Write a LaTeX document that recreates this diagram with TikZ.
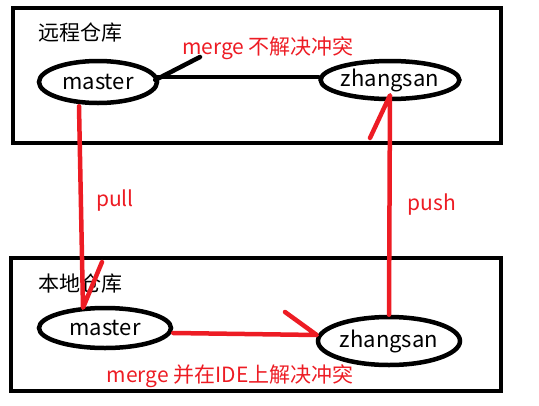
\documentclass[tikz,border=0pt]{standalone}
\usepackage{fontspec}
\setmainfont{Noto Sans CJK SC}
\usetikzlibrary{shapes.geometric,calc}
\definecolor{pred}{RGB}{237,28,36}
\tikzset{
  frame/.style={draw=black,line width=4.5pt},
  br/.style={draw=black,ellipse,line width=4.5pt,inner sep=0pt,font=\fontsize{22}{24}\selectfont},
  lbl/.style={inner sep=0pt,font=\fontsize{21}{24}\selectfont},
  rl/.style={draw=pred,line width=4.5pt,line cap=round,line join=round},
  bl/.style={draw=black,line width=4.5pt,line cap=round},
}
\begin{document}
\begin{tikzpicture}[x=1pt,y=-1pt]
\useasboundingbox (0,0) rectangle (539,405);
\draw[frame] (13,8) rectangle (501,143);
\draw[frame] (11,258) rectangle (501,391);
\node[lbl] (rt) at (80,33) {远程仓库};
\node[lbl] (lt) at (80,284) {本地仓库};
\node[br,minimum width=118pt,minimum height=42pt] (mt) at (98,82) {master};
\node[br,minimum width=122pt,minimum height=38pt] (zt) at (390,80) {zhangsan};
\node[br,minimum width=132pt,minimum height=40pt] (mb) at (105,328) {master};
\node[br,minimum width=142pt,minimum height=48pt] (zb) at (389,341) {zhangsan};
\node[lbl,text=pred] (m1) at (268,48) {merge 不解决冲突};
\node[lbl,text=pred] (m2) at (230,376) {merge 并在IDE上解决冲突};
\node[lbl,text=pred] (pl) at (115,201) {pull};
\node[lbl,text=pred] (ps) at (432,205) {push};
\coordinate (t1) at (200,57);
\coordinate (t2) at (102,262);
\coordinate (t3) at (370,138);
\coordinate (t4) at (285,312);
% top merge
\draw[bl] ($(mt.east)+(-2,-5)$) -- ($(zt.west)+(0,-3)$);
\draw[bl] ($(mt.east)+(-4,-2)$) -- (t1);
% pull
\draw[rl] ($(mt.south)+(-19,1)$) -- ($(mb.north)+(-22,2)$) -- (t2);
% push
\draw[rl] (zb.north) -- ($(zt.south)+(0,-6)$) -- (t3);
% bottom merge
\draw[rl] ($(mb.east)+(0,5)$) -- ($(zb.west)+(1,-6)$) -- (t4);
\end{tikzpicture}
\end{document}
